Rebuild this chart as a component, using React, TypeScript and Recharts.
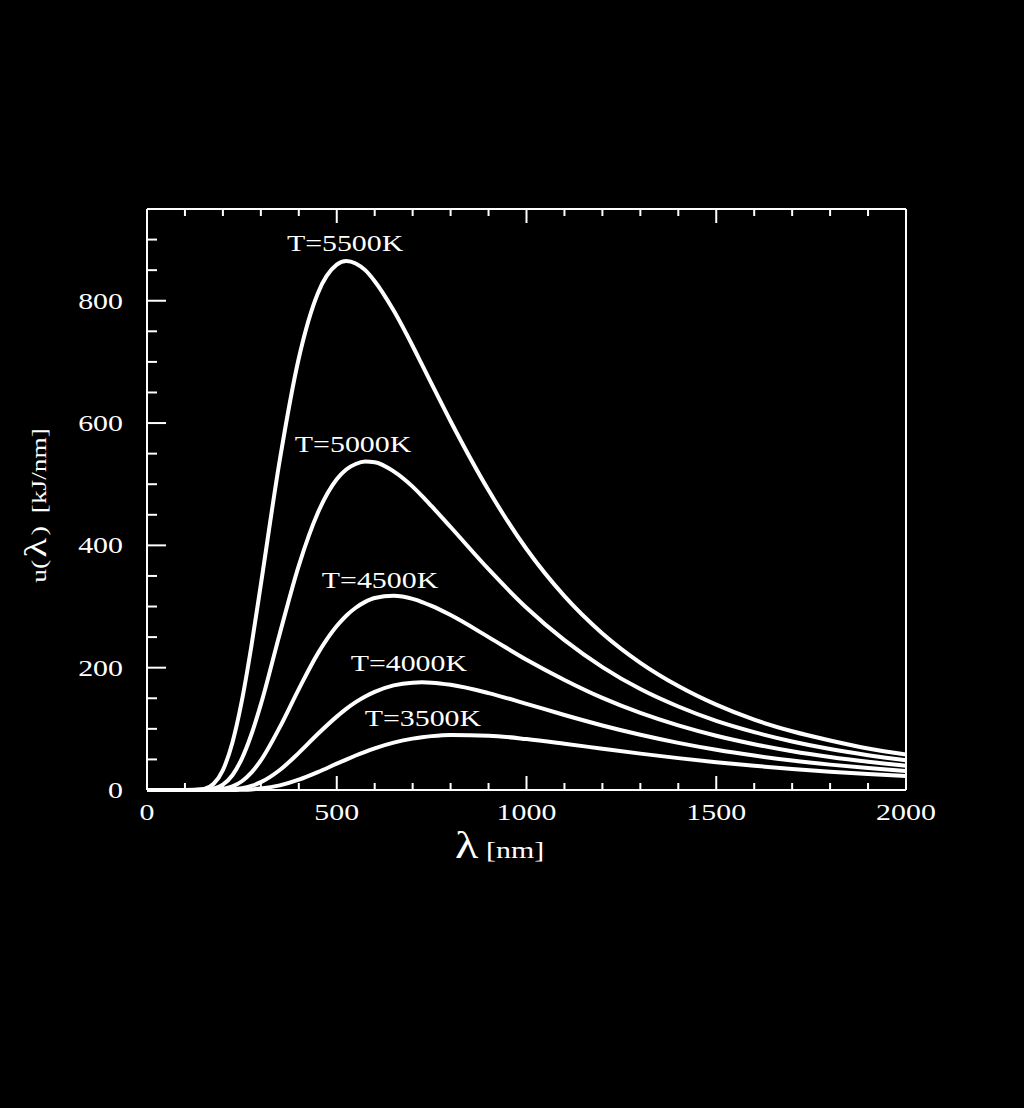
import { Label, Line, LineChart, ReferenceDot, XAxis, YAxis } from "recharts";

// wavelength samples (nm)
const lambdaNm = [
  0, 100, 150, 175, 200, 225, 250, 275, 300, 350, 400, 450, 500, 525, 550, 575,
  600, 650, 700, 725, 750, 800, 900, 1000, 1100, 1200, 1300, 1400, 1500, 1600,
  1700, 1800, 1900, 2000
];

// u(lambda) in kJ/nm
const t5500 = [
  0, 0, 1.8, 9.8, 32.6, 77.4, 146, 235, 336, 540, 706, 812, 859, 865, 861, 850,
  832, 784, 726, 695, 664, 603, 490, 394, 317, 256, 208, 170, 139.5, 115,
  96, 81, 68, 58
];
const t5000 = [
  0, 0, 0.3, 2.2, 8.8, 24.2, 51.3, 90.7, 140, 256, 367, 453, 508, 524, 533, 537,
  536, 521, 496, 480.5, 464, 430, 361, 298, 245, 201, 165, 136.5, 113, 94.6,
  79.4, 67, 56.9, 48.6
];
const t4500 = [
  0, 0, 0, 0.35, 1.8, 5.8, 14.3, 28.4, 48.4, 102.8, 165, 223, 268, 285, 298, 307.6,
  314, 317.5, 312.5, 307.4, 301, 286, 250, 213, 180, 150.6, 126, 105.6, 88.7, 74.9,
  63.4, 54, 46.2, 39.6
];
const t4000 = [
  0, 0, 0, 0, 0.24, 1, 2.9, 6.6, 12.8, 32.7, 60.7, 91.5, 120, 132.7, 143.6, 152.9,
  160.5, 171, 175.5, 176, 175.5, 172, 158.5, 140.9, 122.6, 105.5, 90.3, 77.1, 65.8, 56.3,
  48.2, 41.5, 35.8, 31
];
const t3500 = [
  0, 0, 0, 0, 0, 0, 0.37, 1, 2.3, 7.5, 16.8, 29.2, 43, 49.8, 56.4, 62.5,
  68.1, 77.4, 84, 86.3, 88.1, 90, 88.8, 83.3, 75.7, 67.5, 59.5, 52.1, 45.4, 39.6,
  34.4, 30, 26.2, 22.9
];

const seriesKeys = ["t5500", "t5000", "t4500", "t4000", "t3500"];

// curve labels, anchored in data units
const labelText = ["T=5500K", "T=5000K", "T=4500K", "T=4000K", "T=3500K"];
const labelLambda = [522, 543, 614, 690, 727];
const labelValue = [882, 552, 331, 194, 104];

const xTicks = [
  0, 100, 200, 300, 400, 500, 600, 700, 800, 900, 1000, 1100, 1200, 1300, 1400,
  1500, 1600, 1700, 1800, 1900, 2000
];
const xLabelTicks = [0, 500, 1000, 1500, 2000];
const yTicks = [0, 50, 100, 150, 200, 250, 300, 350, 400, 450, 500, 550, 600, 650, 700, 750, 800, 850, 900];
const yLabelTicks = [0, 200, 400, 600, 800];

const data = lambdaNm.map((l, i) => ({
  lambda: l,
  t5500: t5500[i],
  t5000: t5000[i],
  t4500: t4500[i],
  t4000: t4000[i],
  t3500: t3500[i]
}));

const FONT = '"Liberation Serif", "Times New Roman", serif';
const WHITE = "#ffffff";

function BottomTick({ x, y, payload }: any) {
  const major = xLabelTicks.includes(payload.value);
  return (
    <g>
      <line x1={x} x2={x} y1={y} y2={y - (major ? 14 : 7)} stroke={WHITE} strokeWidth={2} />
      {major && (
        <text
          transform={`translate(${x} ${y + 30}) scale(1.3 1)`}
          textAnchor="middle"
          fill={WHITE}
          fontSize={23}
          fontFamily={FONT}
        >
          {payload.value}
        </text>
      )}
    </g>
  );
}

function TopTick({ x, y, payload }: any) {
  const major = xLabelTicks.includes(payload.value);
  return <line x1={x} x2={x} y1={y} y2={y + (major ? 14 : 7)} stroke={WHITE} strokeWidth={2} />;
}

function LeftTick({ x, y, payload }: any) {
  const major = yLabelTicks.includes(payload.value);
  return (
    <g>
      <line x1={x} x2={x + (major ? 19 : 10)} y1={y} y2={y} stroke={WHITE} strokeWidth={2} />
      {major && (
        <text
          transform={`translate(${x - 24} ${y + 8}) scale(1.3 1)`}
          textAnchor="end"
          fill={WHITE}
          fontSize={23}
          fontFamily={FONT}
        >
          {payload.value}
        </text>
      )}
    </g>
  );
}

function RightTick({ x, y, payload }: any) {
  const major = yLabelTicks.includes(payload.value);
  return <line x1={x} x2={x - (major ? 19 : 10)} y1={y} y2={y} stroke={WHITE} strokeWidth={2} />;
}

function XTitle({ viewBox }: any) {
  const cx = viewBox.x + viewBox.width / 2 - 27;
  const by = viewBox.y + 68;
  return (
    <text transform={`translate(${cx} ${by}) scale(1.3 1)`} textAnchor="middle" fill={WHITE} fontFamily={FONT}>
      <tspan fontSize={37}>λ</tspan>
      <tspan fontSize={23} dx={6}>[nm]</tspan>
    </text>
  );
}

function YTitle({ viewBox }: any) {
  const bx = viewBox.x - 1;
  const cy = viewBox.y + viewBox.height / 2 + 6;
  return (
    <text
      transform={`translate(${bx} ${cy}) rotate(-90) scale(1.3 1)`}
      textAnchor="middle"
      fill={WHITE}
      fontFamily={FONT}
      fontSize={21}
    >
      <tspan>u(</tspan>
      <tspan fontSize={31} dx={2}>λ</tspan>
      <tspan dx={2}>)</tspan>
      <tspan dx={10}>[kJ/nm]</tspan>
    </text>
  );
}

export default function App() {
  return (
    <div style={{ position: "fixed", left: 0, top: 0, width: 1024, height: 1108, background: "#000" }}>
      <LineChart
        width={1024}
        height={1108}
        data={data}
        margin={{ top: 199, right: 108, bottom: 258, left: 47 }}
      >
        <XAxis
          dataKey="lambda"
          type="number"
          domain={[0, 2000]}
          ticks={xTicks}
          interval={0}
          height={60}
          tickSize={0}
          tickMargin={0}
          tickLine={false}
          axisLine={{ stroke: WHITE, strokeWidth: 2 }}
          tick={<BottomTick />}
        >
          <Label content={<XTitle />} />
        </XAxis>
        <XAxis
          xAxisId="top"
          orientation="top"
          dataKey="lambda"
          type="number"
          domain={[0, 2000]}
          ticks={xTicks}
          interval={0}
          height={10}
          tickSize={0}
          tickMargin={0}
          tickLine={false}
          axisLine={{ stroke: WHITE, strokeWidth: 2 }}
          tick={<TopTick />}
        />
        <YAxis
          type="number"
          domain={[0, 950]}
          ticks={yTicks}
          interval={0}
          width={100}
          tickSize={0}
          tickMargin={0}
          tickLine={false}
          axisLine={{ stroke: WHITE, strokeWidth: 2 }}
          tick={<LeftTick />}
        >
          <Label content={<YTitle />} />
        </YAxis>
        <YAxis
          yAxisId="right"
          orientation="right"
          type="number"
          domain={[0, 950]}
          ticks={yTicks}
          interval={0}
          width={10}
          tickSize={0}
          tickMargin={0}
          tickLine={false}
          axisLine={{ stroke: WHITE, strokeWidth: 2 }}
          tick={<RightTick />}
        />
        {seriesKeys.map((k) => (
          <Line
            key={k}
            type="monotone"
            dataKey={k}
            stroke={WHITE}
            strokeWidth={4}
            dot={false}
            isAnimationActive={false}
          />
        ))}
        {labelText.map((t, i) => (
          <ReferenceDot
            key={t}
            x={labelLambda[i]}
            y={labelValue[i]}
            r={0}
            shape={(p: any) => (
              <text
                transform={`translate(${p.cx} ${p.cy}) scale(1.3 1)`}
                textAnchor="middle"
                fill={WHITE}
                fontSize={23}
                fontFamily={FONT}
              >
                {t}
              </text>
            )}
          />
        ))}
      </LineChart>
    </div>
  );
}
